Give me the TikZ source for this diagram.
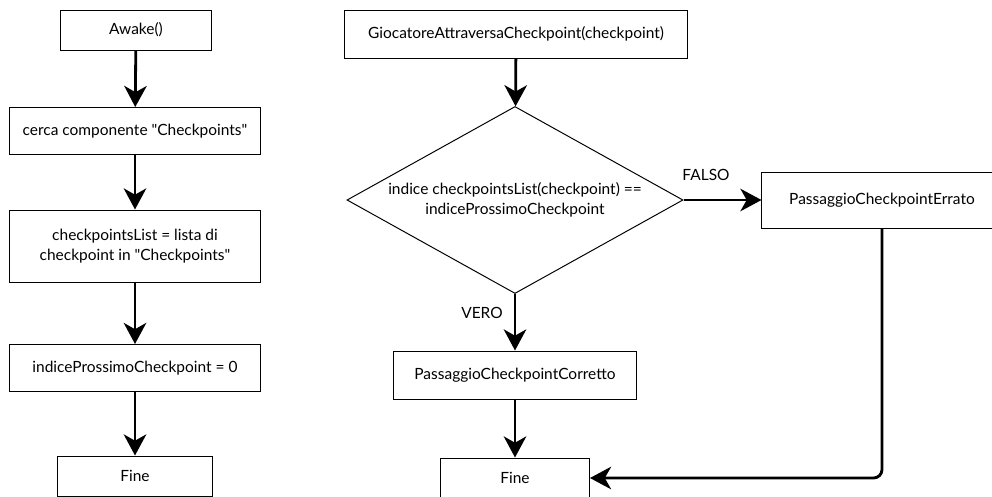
\documentclass[tikz,border=0pt]{standalone}
\usepackage{fontspec}
\setmainfont{Lato}
\usetikzlibrary{arrows.meta,shapes.geometric}

\tikzset{
  blocco/.style={draw, rectangle, line width=0.7pt, align=center, font=\fontsize{11}{14.5}\selectfont},
  scelta/.style={draw, diamond, aspect=1.8, inner sep=0pt, line width=0.7pt, align=center, font=\fontsize{11}{14.5}\selectfont},
  freccia/.style={line width=2pt, -{Stealth[length=15pt,width=16pt,inset=4.5pt]}},
  etichetta/.style={font=\fontsize{11}{14.5}\selectfont}
}

\begin{document}
\begin{tikzpicture}[x=0.025cm,y=-0.025cm]
\useasboundingbox (0,0) rectangle (992,496);
% colonna sinistra
\node[blocco, minimum width=3.75cm, minimum height=1.0cm]   (awake)  at (136,30)  {Awake()};
\node[blocco, minimum width=6.275cm, minimum height=1.175cm] (cerca)  at (135,131) {cerca componente \textquotedbl Checkpoints\textquotedbl};
\node[blocco, minimum width=6.275cm, minimum height=1.8cm]   (lista)  at (135,246) {checkpointsList = lista di\\checkpoint in \textquotedbl Checkpoints\textquotedbl};
\node[blocco, minimum width=6.275cm, minimum height=1.175cm] (indice) at (135,368) {indiceProssimoCheckpoint = 0};
\node[blocco, minimum width=3.85cm, minimum height=1.0cm]    (fineA)  at (135,476) {Fine};
\draw[freccia] (awake)  -- (cerca);
\draw[freccia] (cerca)  -- (lista);
\draw[freccia] (lista)  -- (indice);
\draw[freccia] (indice) -- (fineA);
% colonna destra
\node[blocco, minimum width=8.55cm, minimum height=1.2cm]  (giocatore) at (516,34)  {GiocatoreAttraversaCheckpoint(checkpoint)};
\node[scelta, minimum width=8.4cm, minimum height=4.675cm] (test)      at (515,200) {indice checkpointsList(checkpoint) ==\\indiceProssimoCheckpoint};
\node[blocco, minimum width=6.075cm, minimum height=1.2cm] (corretto)  at (515,375) {PassaggioCheckpointCorretto};
\node[blocco, minimum width=6.0cm, minimum height=1.4cm]   (errato)    at (882,200) {PassaggioCheckpointErrato};
\node[blocco, minimum width=3.725cm, minimum height=1.0cm] (fineB)     at (515,478) {Fine};
\draw[freccia] (giocatore) -- (test);
\draw[freccia] (test.south) -- (corretto);
\draw[freccia] (test.east) -- (errato);
\draw[freccia] (corretto) -- (fineB);
\draw[freccia, rounded corners=6] (errato.south) |- (fineB.east);
\node[etichetta] (falso) at (706,175) {FALSO};
\node[etichetta] (vero)  at (482,313) {VERO};
\end{tikzpicture}
\end{document}
